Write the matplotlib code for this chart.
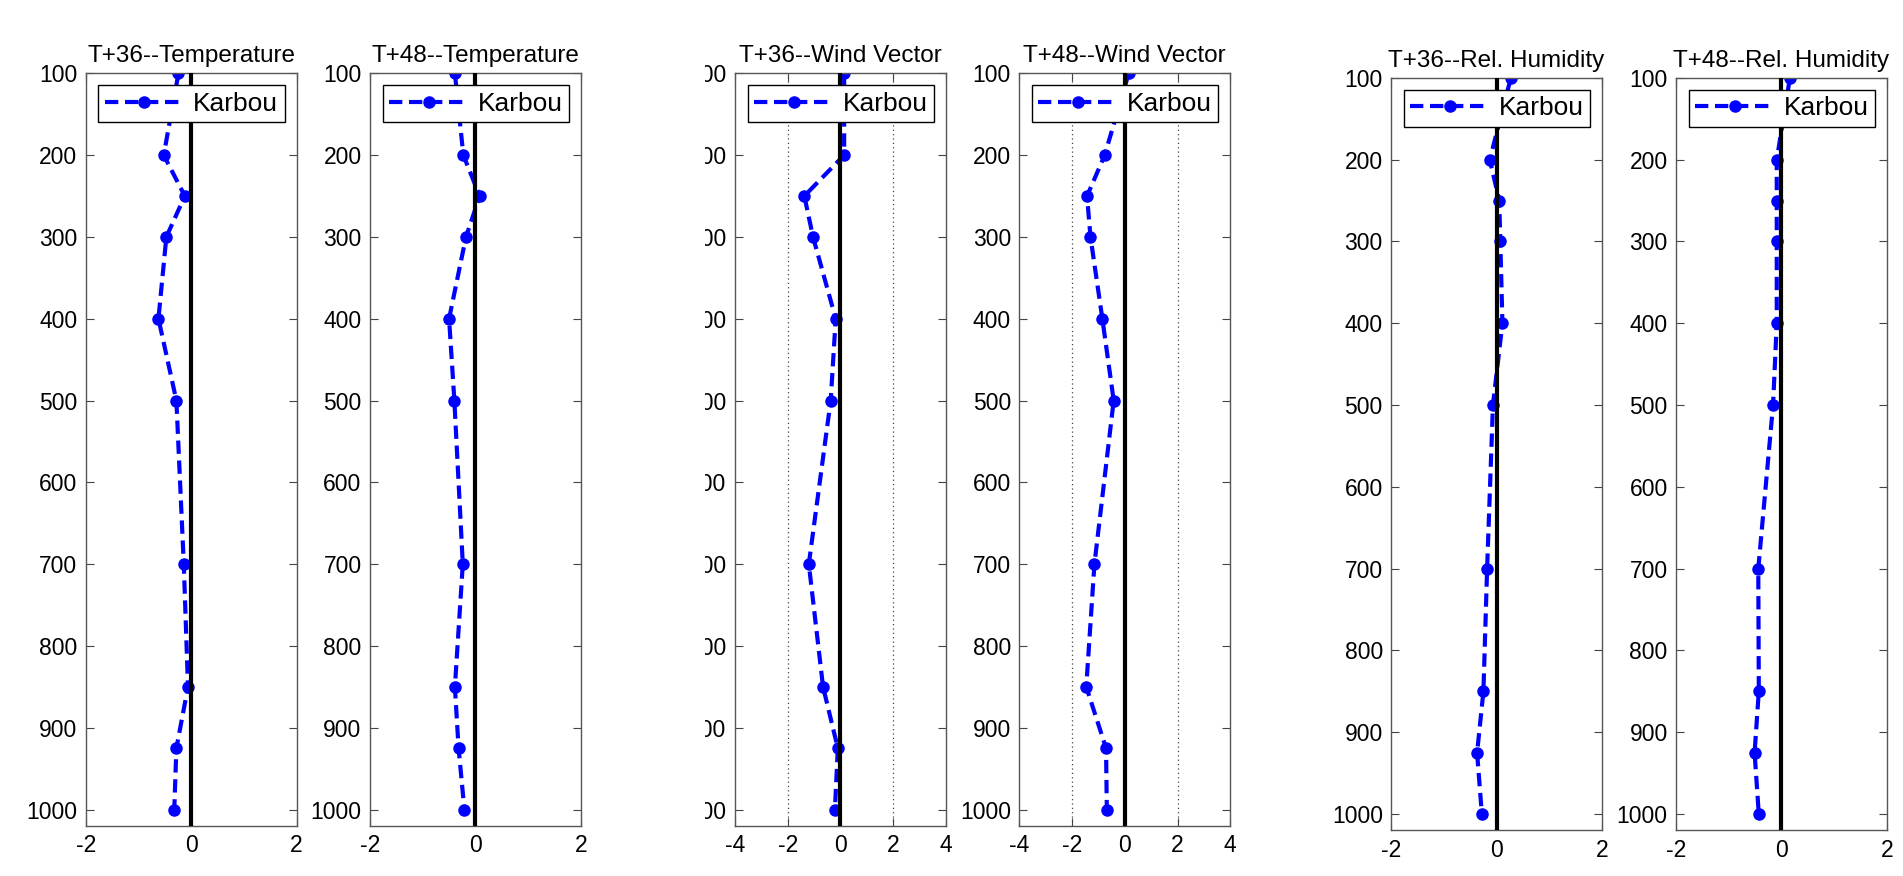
import matplotlib.pyplot as plt
from matplotlib.patches import Rectangle

plt.rcParams['font.family'] = ['Liberation Sans', 'DejaVu Sans']
plt.rcParams['axes.unicode_minus'] = False

# pressure levels (hPa)
levels = [100, 200, 250, 300, 400, 500, 700, 850, 925, 1000]

# mean differences per level
temp_t36 = [-0.24, -0.52, -0.12, -0.47, -0.62, -0.28, -0.14, -0.06, -0.28, -0.32]
temp_t48 = [-0.39, -0.23, 0.08, -0.18, -0.50, -0.40, -0.24, -0.39, -0.32, -0.21]
wind_t36 = [0.14, 0.14, -1.37, -1.04, -0.18, -0.37, -1.20, -0.66, -0.10, -0.21]
wind_t48 = [0.15, -0.76, -1.43, -1.30, -0.85, -0.42, -1.15, -1.46, -0.71, -0.68]
rh_t36 = [0.27, -0.13, 0.05, 0.07, 0.11, -0.07, -0.18, -0.25, -0.37, -0.28]
rh_t48 = [0.16, -0.09, -0.09, -0.09, -0.09, -0.16, -0.44, -0.43, -0.51, -0.43]

titles = ["T+36--Temperature", "T+48--Temperature",
          "T+36--Wind Vector", "T+48--Wind Vector",
          "T+36--Rel. Humidity", "T+48--Rel. Humidity"]
series = [temp_t36, temp_t48, wind_t36, wind_t48, rh_t36, rh_t48]
xlims = [2, 2, 4, 4, 2, 2]
label = "Karbou"

fig = plt.figure(figsize=(19.03, 8.76), dpi=100)

lefts = [0.0450, 0.1944, 0.3862, 0.5356, 0.7310, 0.8807]
bottoms = [0.0572, 0.0572, 0.0572, 0.0572, 0.0520, 0.0520]
w, h = 0.1109, 0.8591

for i in range(6):
    ax = fig.add_axes([lefts[i], bottoms[i], w, h])
    ax.plot(series[i], levels, color='b', ls=(0, (3.2, 1.6)), marker='o',
            lw=3, ms=8, label=label, zorder=2)
    ax.axvline(0, color='k', lw=3, zorder=3)
    lim = xlims[i]
    ax.set_xlim(-lim, lim)
    ax.set_ylim(1020, 100)
    ax.set_xticks(range(-lim, lim + 1, 2))
    ax.set_yticks(range(100, 1001, 100))
    if lim == 4:
        for gx in [-2, 2]:
            ax.axvline(gx, color='#444444', lw=0.9, ls=(0, (1, 2.5)), zorder=1)
    ax.tick_params(direction='in', length=6, width=0.8, top=True, right=True,
                   labelsize=16.5, pad=6, color='#444444')
    for sp in ax.spines.values():
        sp.set_color('#555555')
        sp.set_linewidth(1.0)
    ax.set_title(titles[i], fontsize=17.5, pad=8)
    leg = ax.legend(loc='upper right', fontsize=19, fancybox=False,
                    framealpha=1, edgecolor='k', borderpad=0.25,
                    handlelength=3.0, handletextpad=0.35, borderaxespad=0.45,
                    numpoints=1)
    leg.get_frame().set_linewidth(1.0)

# the wind panel's y labels are cut off in the original
fig.add_artist(Rectangle((0.33, 0.052), 0.0405, 0.878, transform=fig.transFigure,
                         facecolor='white', edgecolor='none', zorder=10))

fig.savefig("out.png", dpi=100)
